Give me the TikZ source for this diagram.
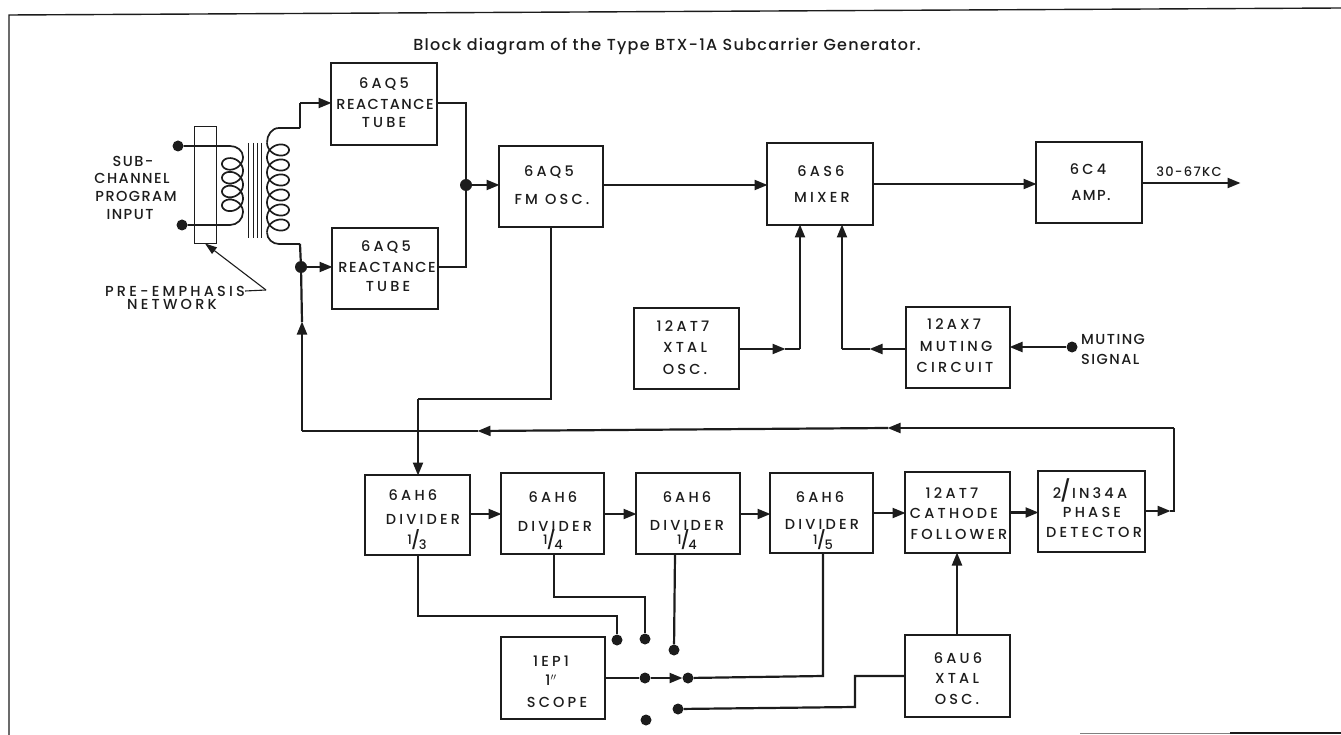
\documentclass[tikz,border=0pt]{standalone}
\usepackage{fontspec}
\usetikzlibrary{arrows.meta}
\newfontfamily\labfont[LetterSpace=22]{Poppins Medium}
\newfontfamily\tightfont[LetterSpace=10]{Poppins Medium}
\newfontfamily\titlefont[LetterSpace=8]{Poppins Medium}
\definecolor{ink}{HTML}{1C1C1C}
\tikzset{
  blk/.style={draw=ink,line width=2.2pt,fill=none,inner sep=0pt,outer sep=0pt},
  lab/.style={text=ink,inner sep=0pt,font=\labfont\fontsize{14.5}{15}\selectfont},
  tlab/.style={text=ink,inner sep=0pt,font=\tightfont\fontsize{14.5}{15}\selectfont},
  wire/.style={draw=ink,line width=2.2pt,line join=miter},
  thin wire/.style={draw=ink,line width=1.1pt},
  arr/.style={wire,-{Triangle[length=13pt,width=10pt]},shorten >=-0.5pt},
  thinarr/.style={thin wire,-{Triangle[length=12pt,width=8pt]}},
  dot/.style={circle,fill=ink,draw=none,minimum size=11pt,inner sep=0pt},
  coil/.style={draw=ink,line width=1.7pt}
}
\newcommand{\blkbox}[5]{\node[blk,minimum width={(#4-#2)*1pt},minimum height={(#5-#3)*1pt}] (#1) at ({(#2+#4)/2},{(#3+#5)/2}) {};}
\newcommand{\bigfrac}[2]{\smash{\raisebox{2pt}{\fontsize{13}{13}\selectfont #1}\kern-1pt{\fontsize{18}{18}\selectfont/}\kern-1.5pt\raisebox{-3pt}{\fontsize{13}{13}\selectfont #2}}}
\begin{document}
\begin{tikzpicture}[x=1pt,y=-1pt]
\useasboundingbox (0,0) rectangle (1341,735);
% frame
\coordinate (ftl) at (9,15);
\coordinate (ftr) at (1341,8);
\coordinate (fbl) at (9,735);
\coordinate (fb1) at (1080,733);
\coordinate (fb2) at (1230,733);
\coordinate (fb3) at (1341,733);
\draw[draw=ink,line width=1.4pt] (fbl) -- (ftl) -- (ftr);
\draw[draw=gray,line width=0.9pt] (fb1) -- (fb2);
\draw[draw=ink,line width=1.2pt] (fb2) -- (fb3);
% title
\node[text=ink,inner sep=0pt,font=\titlefont\fontsize{16}{17}\selectfont] (title) at (667,47) {Block diagram of the Type BTX-1A Subcarrier Generator.};
% boxes
\blkbox{r1}{331}{63}{437}{145}
\blkbox{r2}{332}{228}{438}{309}
\blkbox{fm}{499}{146}{603}{227}
\blkbox{mix}{767}{143}{873}{225}
\blkbox{amp}{1036}{142}{1142}{223}
\blkbox{xo}{634}{308}{739}{389}
\blkbox{mut}{906}{307}{1010}{388}
\blkbox{d1}{365}{475}{470}{555}
\blkbox{d2}{501}{473}{604}{554}
\blkbox{d3}{636}{473}{740}{554}
\blkbox{d4}{770}{473}{873}{553}
\blkbox{cf}{905}{472}{1010}{553}
\blkbox{pd}{1038}{471}{1145}{552}
\blkbox{sc}{501}{637}{605}{719}
\blkbox{au}{905}{635}{1010}{717}
% box labels
\node[lab] (t1a) at (384,84) {6AQ5};
\node[tlab] (t1b) at (385,104) {REACTANCE};
\node[lab] (t1c) at (384,123) {TUBE};
\node[lab] (t2a) at (386,247) {6AQ5};
\node[tlab] (t2b) at (387,267) {REACTANCE};
\node[lab] (t2c) at (388,287) {TUBE};
\node[lab] (t3a) at (549,172) {6AQ5};
\node[lab] (t3b) at (552,199) {FM OSC.};
\node[lab] (t4a) at (821,171) {6AS6};
\node[lab] (t4b) at (822,197) {MIXER};
\node[lab] (t5a) at (1088,169) {6C4};
\node[tlab] (t5b) at (1091,196) {AMP.};
\node[lab] (t6a) at (683,326) {12AT7};
\node[lab] (t6b) at (685,347) {XTAL};
\node[lab] (t6c) at (685,369) {OSC.};
\node[lab] (t7a) at (954,324) {12AX7};
\node[lab] (t7b) at (956,346) {MUTING};
\node[lab] (t7c) at (955,367) {CIRCUIT};
\node[lab] (t8a) at (413,495) {6AH6};
\node[lab] (t8b) at (423,519) {DIVIDER};
\node[lab] (t8c) at (417,546) {\bigfrac{1}{3}};
\node[lab] (t9a) at (553,497) {6AH6};
\node[lab] (t9b) at (555,526) {DIVIDER};
\node[lab] (t9c) at (553,546) {\bigfrac{1}{4}};
\node[lab] (t10a) at (687,497) {6AH6};
\node[lab] (t10b) at (687,525) {DIVIDER};
\node[lab] (t10c) at (687,546) {\bigfrac{1}{4}};
\node[lab] (t11a) at (820,497) {6AH6};
\node[lab] (t11b) at (822,524) {DIVIDER};
\node[lab] (t11c) at (823,546) {\bigfrac{1}{5}};
\node[lab] (t12a) at (952,493) {12AT7};
\node[lab] (t12b) at (954,513) {CATHODE};
\node[lab] (t12c) at (959,534) {FOLLOWER};
\node[lab] (t13a) at (1090,493) {\smash{\raisebox{0pt}{2}\kern-1pt{\fontsize{21}{21}\selectfont/}}\kern1pt IN34A};
\node[lab] (t13b) at (1092,512) {PHASE};
\node[lab] (t13c) at (1094,532) {DETECTOR};
\node[lab] (t14a) at (551,661) {1EP1};
\node[lab] (t14b) at (551,680) {1$''$};
\node[lab] (t14c) at (557,702) {SCOPE};
\node[lab] (t15a) at (958,658) {6AU6};
\node[lab] (t15b) at (957,678) {XTAL};
\node[lab] (t15c) at (957,699) {OSC.};
% free labels
\node[tlab] (l1) at (133,161) {SUB-};
\node[tlab] (l2) at (132,178) {CHANNEL};
\node[tlab] (l3) at (136,196) {PROGRAM};
\node[tlab] (l4) at (130,215) {INPUT};
\node[lab] (l5) at (175,291) {PRE-EMPHASIS};
\node[lab] (l6) at (172,304) {NETWORK};
\node[tlab,anchor=west] (l7) at (1081,339) {MUTING};
\node[tlab,anchor=west] (l8) at (1081,359) {SIGNAL};
\node[tlab,font=\tightfont\fontsize{13}{14}\selectfont] (l9) at (1189,172) {30-67KC};
% dots
\node[dot] (pa) at (178,146) {};
\node[dot] (pb) at (182,225) {};
\node[dot,minimum size=12pt] (j1) at (466,185) {};
\node[dot,minimum size=12pt] (j2) at (301,267) {};
\node[dot] (mdot) at (1072,347) {};
\node[dot] (s1) at (617,640) {};
\node[dot] (s2) at (645,639) {};
\node[dot] (s3) at (674,650) {};
\node[dot] (s4) at (688,678) {};
\node[dot] (s5) at (678,709) {};
\node[dot] (s6) at (646,720) {};
\node[dot] (sw) at (645,678) {};
% pre-emphasis network
\node[draw=ink,line width=0.9pt,minimum width=22pt,minimum height=117pt,inner sep=0pt] (pre) at (205,184.5) {};
\coordinate (pk) at (266,290);
\draw[thin wire] (l5.east) -- (pk);
\draw[thinarr] (pk) -- (pre.south);
% core
\foreach \i/\cx in {1/248,2/253,3/257,4/261}{
  \coordinate (ca\i) at (\cx,143);
  \coordinate (cb\i) at (\cx,238);
  \draw[draw=ink,line width=1pt] (ca\i) -- (cb\i);
}
% primary coil
\coordinate (p1) at (243,157);
\coordinate (p2) at (243,212);
\draw[coil] (pa) -- (230,146) to[out=0,in=90] (p1);
\draw[coil] (pb) -- (230,225) to[out=0,in=-90] (p2);
\draw[coil] plot[smooth,samples=140,domain=0:4,variable=\u] ({232.5+10.5*cos(360*\u)},{157+13.8*\u+9*sin(360*\u)});
% secondary coil
\coordinate (u1) at (300,128);
\coordinate (u2) at (300,103);
\coordinate (b1) at (300,244);
\coordinate (u3) at (267,142.5);
\coordinate (b3) at (267,232.5);
\draw[coil] (u1) -- (279,128) to[out=180,in=90] (u3);
\draw[coil] (b1) -- (279,244) to[out=180,in=-90] (b3);
\draw[coil] plot[smooth,samples=220,domain=0:6,variable=\u] ({278-11*cos(360*\u)},{142.5+15*\u+9*sin(360*\u)});
\draw[wire] (u1) -- (u2);
\draw[wire] (b1) -- (j2);
% input arrows to reactance tubes
\draw[arr] (u2) -- (u2 -| r1.west);
\draw[arr] (j2) -- (j2 -| r2.west);
% reactance outputs
\coordinate (c1) at (466,103);
\coordinate (c2) at (466,267);
\draw[wire] (c1 -| r1.east) -- (c1) -- (c2) -- (c2 -| r2.east);
\draw[arr] (j1) -- (j1 -| fm.west);
% main chain
\coordinate (m1) at (603,185);
\draw[arr] (m1) -- (m1 -| mix.west);
\coordinate (m2) at (873,184);
\draw[arr] (m2) -- (m2 -| amp.west);
\coordinate (m3) at (1142,183);
\coordinate (ampout) at (1240,183);
\draw[arr] (m3) -- (ampout);
% xtal osc to mixer
\coordinate (x1) at (739,349);
\coordinate (x2) at (785,349);
\coordinate (x3) at (800,349);
\coordinate (x4) at (800,225);
\draw[arr] (x1) -- (x2);
\draw[wire] (x2) -- (x3);
\draw[arr] (x3) -- (x4);
% muting to mixer
\coordinate (y1) at (906,349);
\coordinate (y2) at (870,349);
\coordinate (y3) at (842,349);
\coordinate (y4) at (842,225);
\draw[arr] (y1) -- (y2);
\draw[wire] (y2) -- (y3);
\draw[arr] (y3) -- (y4);
\coordinate (y5) at (1010,347);
\draw[arr] (mdot) -- (y5);
% FM osc to divider
\coordinate (f1) at (551,227);
\coordinate (f2) at (551,399);
\coordinate (f3) at (418,399);
\coordinate (f4) at (418,475);
\draw[wire] (f1) -- (f2) -- (f3);
\draw[arr] (f3) -- (f4);
% feedback
\coordinate (k1) at (1145,511);
\coordinate (k2) at (1170,511);
\coordinate (k3) at (1174,511);
\coordinate (k4) at (1174,428);
\coordinate (k5) at (888,428);
\coordinate (k6) at (478,431);
\coordinate (k7) at (302,431);
\coordinate (k8) at (302,322);
\draw[arr] (k1) -- (k2);
\draw[wire] (k2) -- (k3) -- (k4);
\draw[arr] (k4) -- (k5);
\draw[arr] (k5) -- (k6);
\draw[wire] (k6) -- (k7);
\draw[arr] (k7) -- (k8);
\draw[wire] (k8) -- (j2);
% divider chain
\coordinate (e1) at (470,514);
\draw[arr] (e1) -- (e1 -| d2.west);
\coordinate (e2) at (604,514);
\draw[arr] (e2) -- (e2 -| d3.west);
\coordinate (e3) at (740,514);
\draw[arr] (e3) -- (e3 -| d4.west);
\coordinate (e4) at (873,513);
\draw[arr] (e4) -- (e4 -| cf.west);
\draw[arr] (cf.east) -- (cf.east -| pd.west);
\coordinate (v) at (957,600);
\draw[arr] (v |- au.north) -- (v |- cf.south);
% taps
\coordinate (g1) at (418,555);
\coordinate (g2) at (418,616);
\coordinate (g3) at (617,616);
\draw[wire] (g1) -- (g2) -- (g3) -- (s1);
\coordinate (h1) at (554,554);
\coordinate (h2) at (554,597);
\coordinate (h3) at (645,597);
\draw[wire] (h1) -- (h2) -- (h3) -- (s2);
\coordinate (i1) at (675,554);
\draw[wire] (i1) -- (s3);
\coordinate (n1) at (823,553);
\coordinate (n2) at (823,676);
\draw[wire] (n1) -- (n2) -- (s4);
% switch
\coordinate (w1) at (605,678);
\coordinate (w2) at (682,678);
\draw[wire] (w1) -- (sw);
\draw[arr] (sw) -- (w2);
% 6AU6 to switch
\coordinate (q1) at (905,676);
\coordinate (q2) at (855,676);
\coordinate (q3) at (855,707);
\draw[wire] (q1) -- (q2) -- (q3) -- (s5);
\end{tikzpicture}
\end{document}
